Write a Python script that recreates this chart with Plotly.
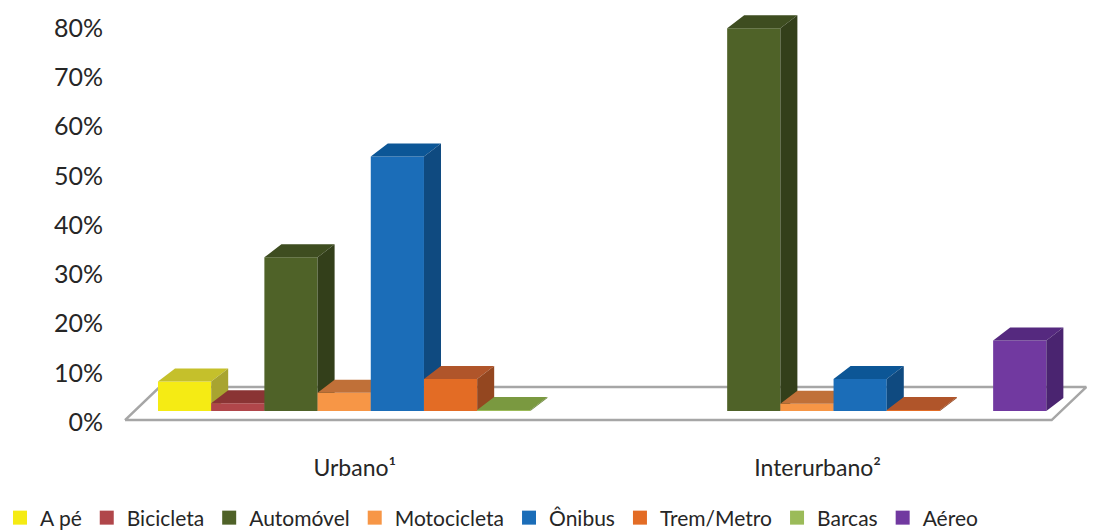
import plotly.graph_objects as go

# Modal split (share of trips, %) for urban and intercity travel
categories = ["Urbano¹", "Interurbano²"]
modes = ["A pé", "Bicicleta", "Automóvel", "Motocicleta", "Ônibus", "Trem/Metro", "Barcas", "Aéreo"]
urbano = [6.0, 1.6, 31.2, 3.7, 51.7, 6.5, 0.2, 0.0]
interurbano = [0.0, 0.0, 77.7, 1.5, 6.5, 0.2, 0.0, 14.3]
y_ticks = [0, 10, 20, 30, 40, 50, 60, 70, 80]
y_tick_labels = [f"{t}%" for t in y_ticks]

front_colors = ["#F5EB14", "#B0464A", "#4F6228", "#F79646", "#1B6DB8", "#E36C25", "#9BBB59", "#7139A0"]
top_colors = ["#C5C02B", "#8A3434", "#3E4D20", "#C07038", "#0C5696", "#B0552A", "#7A9940", "#55297F"]
side_colors = ["#A8A430", "#7A2E2E", "#333F1A", "#A85E2E", "#0F4A80", "#944720", "#6A8538", "#4A2470"]

# Oblique 3-D projection parameters (x in bar-width units, y in %)
GROUP_STEP = 8.7      # distance between category groups
LIFT = 2.23           # bars stand behind the axis plane
DX, DY = 0.32, 2.64   # bar depth offset
FLOOR_FRONT, FLOOR_BACK = 0.4, 7.1
FLOOR_X = (-0.62, 16.8, 0.65)  # front-left, front-right, horizontal depth shift

series_values = [urbano, interurbano]

fig = go.Figure()

# floor plate
fx0, fx1, fdx = FLOOR_X
fig.add_trace(go.Scatter(
    x=[fx0, fx1, fx1 + fdx, fx0 + fdx, fx0],
    y=[FLOOR_FRONT, FLOOR_FRONT, FLOOR_BACK, FLOOR_BACK, FLOOR_FRONT],
    mode="lines", fill="toself", fillcolor="white",
    line=dict(color="#A6A6A6", width=2.5),
    hoverinfo="skip", showlegend=False,
))


def faces(j):
    front_x, front_y, top_x, top_y, side_x, side_y = [], [], [], [], [], []
    for i, vals in enumerate(series_values):
        v = vals[j]
        if v <= 0:
            continue
        x0 = i * GROUP_STEP + j
        x1 = x0 + 1
        b, t = LIFT, LIFT + v
        front_x += [x0, x1, x1, x0, x0, None]
        front_y += [b, b, t, t, b, None]
        top_x += [x0, x1, x1 + DX, x0 + DX, x0, None]
        top_y += [t, t, t + DY, t + DY, t, None]
        side_x += [x1, x1 + DX, x1 + DX, x1, x1, None]
        side_y += [b, b + DY, t + DY, t, b, None]
    return front_x, front_y, top_x, top_y, side_x, side_y


# bars drawn left to right so nearer faces overlap correctly
for j, mode in enumerate(modes):
    fxs, fys, txs, tys, sxs, sys_ = faces(j)
    if not fxs:
        continue
    fig.add_trace(go.Scatter(x=fxs, y=fys, mode="none", fill="toself",
                             fillcolor=front_colors[j], legendgroup=mode,
                             showlegend=False, name=mode, hoverinfo="name"))
    fig.add_trace(go.Scatter(x=txs, y=tys, mode="none", fill="toself",
                             fillcolor=top_colors[j], legendgroup=mode,
                             showlegend=False, hoverinfo="skip"))
    fig.add_trace(go.Scatter(x=sxs, y=sys_, mode="none", fill="toself",
                             fillcolor=side_colors[j], legendgroup=mode,
                             showlegend=False, hoverinfo="skip"))

# legend entries
for j, mode in enumerate(modes):
    fig.add_trace(go.Scatter(x=[None], y=[None], mode="markers", name=mode,
                             legendgroup=mode,
                             marker=dict(symbol="square", size=14, color=front_colors[j])))

group_centres = [i * GROUP_STEP + len(modes) / 2 - 0.3 for i in range(len(categories))]

fig.update_layout(
    width=1099, height=531,
    margin=dict(l=104, r=0, t=0, b=79, autoexpand=False),
    paper_bgcolor="white", plot_bgcolor="white",
    font=dict(family="Lato", size=24, color="#262626"),
    xaxis=dict(range=[-1.015, 17.69], showgrid=False, zeroline=False, showline=False,
               tickvals=group_centres, ticktext=categories, ticks="",
               tickfont=dict(size=23), fixedrange=True),
    yaxis=dict(range=[-6.09, 85.69], showgrid=False, zeroline=False, showline=False,
               tickvals=y_ticks, ticktext=y_tick_labels, ticks="",
               tickfont=dict(size=25), fixedrange=True),
    legend=dict(orientation="h", x=0.0, xref="container", xanchor="left",
                y=-0.146, yref="paper", yanchor="middle",
                font=dict(size=21), itemwidth=30,
                bgcolor="rgba(0,0,0,0)"),
    showlegend=True,
)

fig.write_html("out.html")
